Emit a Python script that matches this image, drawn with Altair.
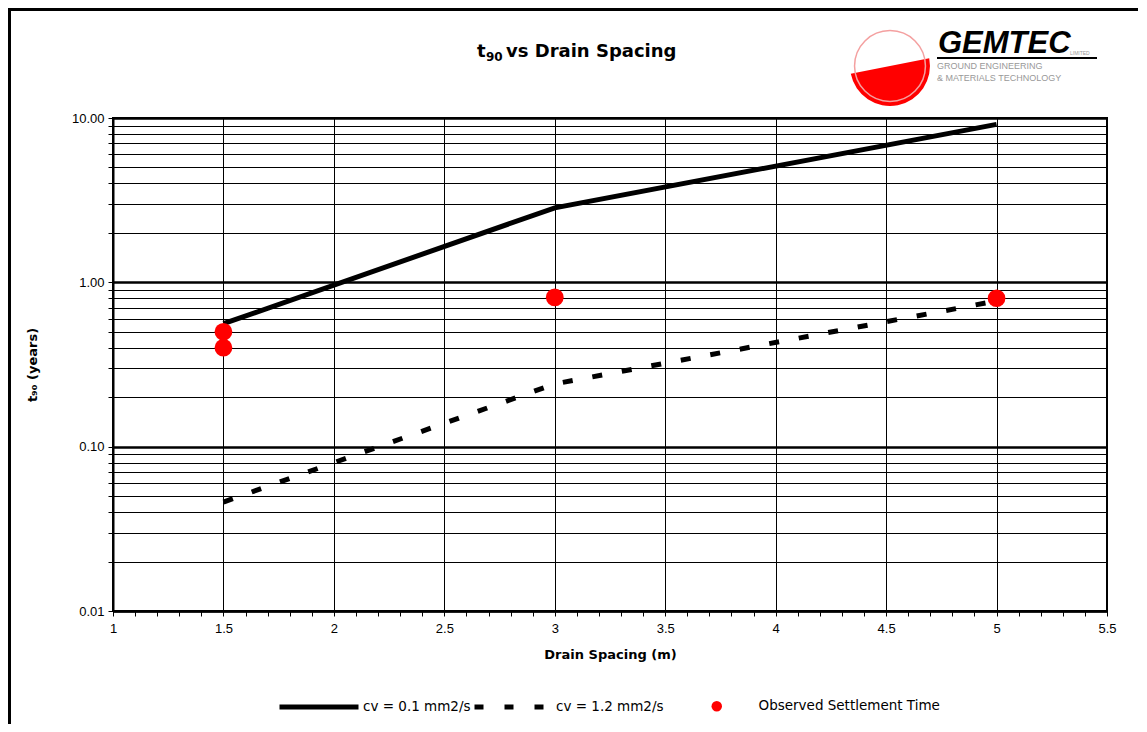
import altair as alt
import pandas as pd

# ---------------- data ----------------
spacing = [1.5, 3.0, 5.0]
t90_cv01 = [0.56, 2.84, 9.15]
t90_cv12 = [0.046, 0.241, 0.77]
obs_spacing = [1.5, 1.5, 3.0, 5.0]
obs_t90 = [0.50, 0.40, 0.81, 0.80]

label_cv01 = "cv = 0.1 mm2/s"
label_cv12 = "cv = 1.2 mm2/s"
label_obs = "Observed Settlement Time"

x_ticks = [round(1.0 + 0.1 * i, 1) for i in range(46)]
y_ticks = [round(d * m, 4) for d in [0.01, 0.1, 1.0] for m in range(1, 10)] + [10.0]

TICKFONT = "Liberation Sans"
FONT = "DejaVu Sans"
P = (113, 118)  # plot origin on page (for annotation offsets)

is_half = "abs(datum.value*2 - round(datum.value*2)) < 0.001"
is_dec = "abs(log(datum.value)/LN10 - round(log(datum.value)/LN10)) < 0.001"

x_enc = alt.X(
    "spacing:Q",
    scale=alt.Scale(domain=[1, 5.5], nice=False, zero=False),
    axis=alt.Axis(
        values=x_ticks,
        title="Drain Spacing (m)",
        labelExpr=f"{is_half} ? datum.value + '' : ''",
        grid=True,
        gridOpacity={"condition": {"test": is_half, "value": 1}, "value": 0},
        gridColor="#000000", gridWidth=1,
        tickSize=5, tickColor="#000000", tickWidth=1,
        domainColor="#000000", domainWidth=2,
        labelFont=TICKFONT, labelFontSize=13, labelColor="#000000",
        labelPadding=6, labelFlush=False, labelOverlap=False, labelBound=False,
        titleFont=FONT, titleFontSize=13, titleFontWeight="bold", titleColor="#000000",
        titlePadding=13,
    ),
)
y_enc = alt.Y(
    "t90:Q",
    scale=alt.Scale(type="log", domain=[0.01, 10], nice=False),
    axis=alt.Axis(
        values=y_ticks,
        title="t₉₀ (years)",
        labelExpr=f"{is_dec} ? format(datum.value, '.2f') : ''",
        grid=True,
        gridColor="#000000",
        gridWidth={"condition": {"test": is_dec, "value": 2.5}, "value": 1},
        tickSize=5, tickColor="#000000", tickWidth=1,
        domainColor="#000000", domainWidth=2,
        labelFont=TICKFONT, labelFontSize=13, labelColor="#000000",
        labelPadding=4, labelFlush=False, labelOverlap=False, labelBound=False,
        titleFont=FONT, titleFontSize=13, titleFontWeight="bold", titleColor="#000000",
        titlePadding=32,
    ),
)

legend_common = dict(title=None, orient="none", labelFont=FONT, labelFontSize=13.5,
                     labelColor="#000000", labelLimit=400, padding=0)

df1 = pd.DataFrame({"spacing": spacing, "t90": t90_cv01, "series": label_cv01})
df2 = pd.DataFrame({"spacing": spacing, "t90": t90_cv12, "series": label_cv12})
df3 = pd.DataFrame({"spacing": obs_spacing, "t90": obs_t90, "series": label_obs})

line1 = alt.Chart(df1).mark_line(strokeWidth=5, strokeCap="butt").encode(
    x=x_enc, y=y_enc,
    color=alt.Color("series:N", scale=alt.Scale(domain=[label_cv01], range=["#000000"]),
                    legend=alt.Legend(legendX=277 - P[0], legendY=665 - P[1],
                                      symbolType="stroke", symbolSize=6241,
                                      symbolStrokeWidth=5, labelOffset=2, **legend_common)),
)
line2 = alt.Chart(df2).mark_line(strokeWidth=5, strokeDash=[10, 20], strokeCap="butt").encode(
    x=x_enc, y=y_enc,
    color=alt.Color("series:N", scale=alt.Scale(domain=[label_cv12], range=["#000000"]),
                    legend=alt.Legend(legendX=472 - P[0], legendY=669.5 - P[1],
                                      symbolType="stroke", symbolSize=4900,
                                      symbolDash=[9, 21], symbolStrokeWidth=5,
                                      labelOffset=9, **legend_common)),
)
points = alt.Chart(df3).mark_circle(size=314, opacity=1).encode(
    x=x_enc, y=y_enc,
    color=alt.Color("series:N", scale=alt.Scale(domain=[label_obs], range=["#ff0000"]),
                    legend=alt.Legend(legendX=710 - P[0], legendY=699.5 - P[1],
                                      symbolType="circle", symbolSize=110,
                                      symbolOpacity=1, labelOffset=35, **legend_common)),
)

dummy = pd.DataFrame({"k": [0]})

# chart title: t + subscript 90 + rest
title_t = alt.Chart(dummy).mark_text(
    text="t", font=FONT, fontSize=18, fontWeight="bold",
    color="#000000", align="left", baseline="alphabetic",
).encode(x=alt.value(477 - P[0]), y=alt.value(57 - P[1]))
title_sub = alt.Chart(dummy).mark_text(
    text="90", font=FONT, fontSize=12, fontWeight="bold",
    color="#000000", align="left", baseline="alphabetic",
).encode(x=alt.value(486 - P[0]), y=alt.value(61 - P[1]))
title_rest = alt.Chart(dummy).mark_text(
    text="vs Drain Spacing", font=FONT, fontSize=18, fontWeight="bold",
    color="#000000", align="left", baseline="alphabetic",
).encode(x=alt.value(506 - P[0]), y=alt.value(57 - P[1]))

# logo
logo_red = alt.Chart(dummy).mark_arc(
    theta=1.374, theta2=4.515, radius=40, color="#ff0000"
).encode(x=alt.value(890 - P[0]), y=alt.value(66 - P[1]))
logo_ring = alt.Chart(dummy).mark_point(
    shape="circle", size=5027, filled=False, color="#f4a0a0", strokeWidth=1.5, opacity=1
).encode(x=alt.value(890 - P[0]), y=alt.value(66 - P[1]))
logo_name = alt.Chart(dummy).mark_text(
    text="GEMTEC", font="Liberation Sans", fontSize=31, fontWeight="bold", fontStyle="italic",
    color="#000000", align="left", baseline="alphabetic",
).encode(x=alt.value(938 - P[0]), y=alt.value(53 - P[1]))
logo_ltd = alt.Chart(dummy).mark_text(
    text="LIMITED", font="Liberation Sans", fontSize=5, color="#999999",
    align="left", baseline="alphabetic",
).encode(x=alt.value(1070 - P[0]), y=alt.value(55 - P[1]))
logo_rule = alt.Chart(dummy).mark_rule(color="#000000", strokeWidth=2).encode(
    x=alt.value(937 - P[0]), x2=alt.value(1097 - P[0]), y=alt.value(58 - P[1]))
logo_sub1 = alt.Chart(dummy).mark_text(
    text="GROUND ENGINEERING", font="Liberation Sans", fontSize=9, color="#999999",
    align="left", baseline="middle",
).encode(x=alt.value(937 - P[0]), y=alt.value(66 - P[1]))
logo_sub2 = alt.Chart(dummy).mark_text(
    text="& MATERIALS TECHNOLOGY", font="Liberation Sans", fontSize=9, color="#999999",
    align="left", baseline="middle",
).encode(x=alt.value(937 - P[0]), y=alt.value(78 - P[1]))

# outer frame (top and left edges visible)
frame_top = alt.Chart(dummy).mark_rule(color="#000000", strokeWidth=3).encode(
    x=alt.value(8 - P[0]), x2=alt.value(1138 - P[0]), y=alt.value(9.5 - P[1]))
frame_left = alt.Chart(dummy).mark_rule(color="#000000", strokeWidth=3).encode(
    x=alt.value(9.5 - P[0]), y=alt.value(8 - P[1]), y2=alt.value(724 - P[1]))

chart = (
    alt.layer(line1, line2, points, title_t, title_sub, title_rest,
              logo_red, logo_ring, logo_name, logo_ltd, logo_rule, logo_sub1, logo_sub2,
              frame_top, frame_left)
    .resolve_scale(color="independent")
    .resolve_legend(color="independent")
    .properties(
        width=994, height=493,
        autosize=alt.AutoSizeParams(type="none"),
        padding={"left": 105, "top": 110, "right": 32, "bottom": 113},
        background="#ffffff",
    )
    .configure_view(stroke="#000000", strokeWidth=2)
)

chart.save("out.html", embed_options={"renderer": "svg", "actions": False})
